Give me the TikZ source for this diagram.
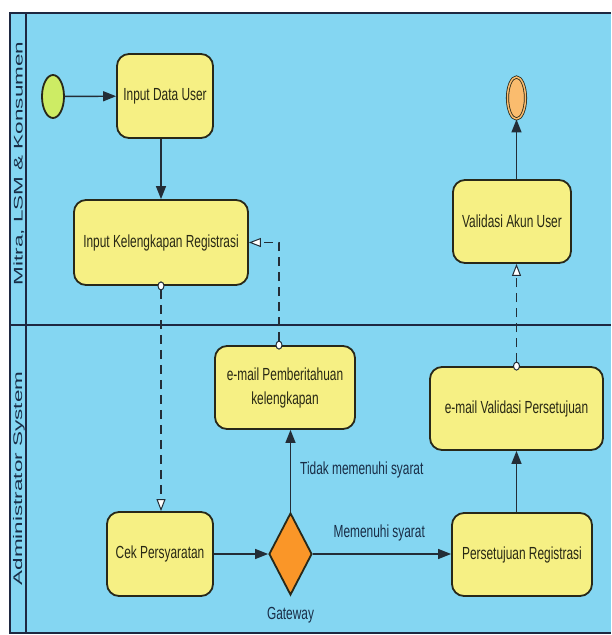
\documentclass[tikz,border=0pt]{standalone}
\usepackage{fontspec}
\usepackage{tikz}
\usetikzlibrary{arrows.meta,shapes.geometric}
\newfontfamily\boxfont[FakeStretch=0.68]{Liberation Sans}
\newfontfamily\lanefont[FakeStretch=1.8]{Liberation Sans}
\definecolor{laneblue}{RGB}{132,214,242}
\definecolor{laneline}{RGB}{30,40,65}
\definecolor{taskyellow}{RGB}{246,240,132}
\definecolor{taskline}{RGB}{40,40,25}
\definecolor{tasktext}{RGB}{40,40,20}
\definecolor{flowline}{RGB}{35,45,55}
\definecolor{labeltext}{RGB}{25,45,70}
\definecolor{startgreen}{RGB}{205,236,100}
\definecolor{endorange}{RGB}{250,188,110}
\definecolor{gateorange}{RGB}{250,150,40}

\begin{document}
\begin{tikzpicture}[x = 1pt, y = -1pt, line width = 1.8pt,
                      task/.style = {rectangle, rounded corners = 12pt, draw = taskline, fill = taskyellow,
                                     text = tasktext, font = \boxfont\fontsize{17.5}{24}\selectfont,
                                     align = center, inner sep = 0pt},
                      lanetext/.style = {rotate = 90, text = labeltext, font = \lanefont\fontsize{12.5}{16}\selectfont},
                      flowtext/.style = {text = labeltext, font = \boxfont\fontsize{17.5}{20}\selectfont, inner sep = 0pt},
                      flow/.style = {draw = flowline, line width = 1.4pt, -{Triangle[length = 13pt, width = 10pt]}},
                      msg/.style = {draw = flowline, line width = 1.3pt, dash pattern = on 9pt off 6pt,
                                    shorten <= -4.5pt,
                                    {Circle[fill = white, length = 9pt, width = 7pt, line width = 1pt]}-{Triangle[fill = white, length = 12pt, width = 9pt, line width = 1pt]}}]
    \useasboundingbox (0, 0) rectangle (611, 635);
    \fill [laneblue] (10, 13) rectangle (611, 633);
    \draw [laneline, line width = 2pt] (611, 13) -- (10, 13) -- (10, 633) -- (611, 633);
    \draw [laneline, line width = 2pt] (10, 325) -- (611, 325);
    \draw [laneline, line width = 1.2pt] (26, 13) -- (26, 633);
    \node [lanetext] (laneMitra) at (19, 163.5) {Mitra, LSM \& Konsumen};
    \node [lanetext] (laneAdmin) at (19, 478.5) {Administrator System};

    \node [ellipse, draw = taskline, fill = startgreen, minimum width = 22pt, minimum height = 43pt, inner sep = 0pt] (start) at (53, 96.5){};
    \node [task, minimum width = 96pt, minimum height = 84pt] (inData) at (165, 96){Input Data User};
    \node [task, minimum width = 174pt, minimum height = 85pt] (inReg) at (161, 242.5){Input Kelengkapan Registrasi};
    \node [task, minimum width = 118pt, minimum height = 83pt] (valAkun) at (512, 221.5){Validasi Akun User};
    \node [ellipse, draw = taskline, fill = endorange, line width = 0.8pt, double = endorange, double distance = 1.5pt,
           minimum width = 18pt, minimum height = 42pt, inner sep = 0pt] (endEv) at (516.5, 98){};

    \node [task, minimum width = 140pt, minimum height = 83pt] (mailInfo) at (285, 387.5){e-mail Pemberitahuan\\kelengkapan};
    \node [task, minimum width = 173pt, minimum height = 83pt] (mailVal) at (516.5, 408.5){e-mail Validasi Persetujuan};
    \node [task, minimum width = 106pt, minimum height = 84pt] (cek) at (160, 554){Cek Persyaratan};
    \node [diamond, draw = taskline, fill = gateorange, minimum width = 43pt, minimum height = 82pt, inner sep = 0pt,
           label = {[flowtext, label distance = 10pt]below:Gateway}] (gw) at (290.5, 554){};
    \node [task, minimum width = 140pt, minimum height = 83pt] (setuju) at (522, 554.5){Persetujuan Registrasi};

    \draw [flow] (start) -- (inData);
    \draw [flow] (inData.south -| inReg.north) -- (inReg.north);
    \draw [msg] (inReg.south) -- (inReg.south |- cek.north);
    \draw [msg] ([xshift = -6pt]mailInfo.north) |- (inReg.east);
    \draw [flow] (cek) -- (gw);
    \draw [flow] (gw.north) -- node (lblNo) [flowtext, anchor = west, xshift = 9pt, pos = 0.51] {Tidak memenuhi syarat} (gw.north |- mailInfo.south);
    \draw [flow] (gw.east) -- node (lblYes) [flowtext, above = 12pt, pos = 0.48] {Memenuhi syarat} (gw.east -| setuju.west);
    \draw [flow] (mailVal.south |- setuju.north) -- (mailVal.south);
    \draw [msg] (mailVal.north) -- (mailVal.north |- valAkun.south);
    \draw [flow] (endEv.south |- valAkun.north) -- (endEv.south);
\end{tikzpicture}
\end{document}
